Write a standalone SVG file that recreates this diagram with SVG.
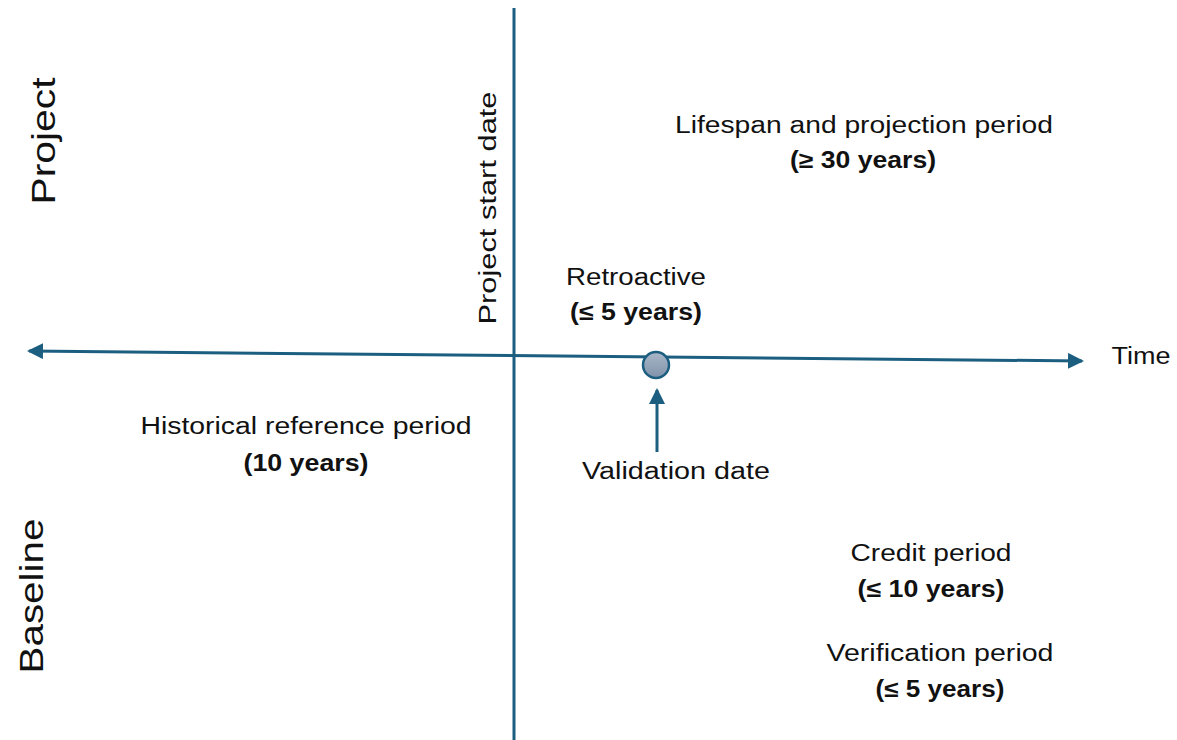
<svg xmlns="http://www.w3.org/2000/svg" width="1177" height="740" viewBox="0 0 1177 740">
<style>
.t{font-family:"Liberation Sans",Arial,sans-serif;font-size:23px;fill:#111;text-anchor:middle}
.b{font-weight:bold}
.ax{stroke:#1b5e7f;stroke-width:3;fill:none}
</style>
<defs>
<marker id="ah" viewBox="0 0 16 16" refX="14" refY="8" markerWidth="16" markerHeight="16" markerUnits="userSpaceOnUse" orient="auto-start-reverse">
<path d="M0,0 L16,8 L0,16 Z" fill="#1b5e7f"/>
</marker>
<linearGradient id="cg" x1="0" y1="0" x2="0" y2="1">
<stop offset="0" stop-color="#a9b7c8"/>
<stop offset="1" stop-color="#8093aa"/>
</linearGradient>
</defs>
<rect width="1177" height="740" fill="#fff"/>
<g id="connectors">
<line class="ax" x1="514" y1="8" x2="514" y2="740"/>
<line class="ax" x1="29" y1="351" x2="1082" y2="361" marker-start="url(#ah)" marker-end="url(#ah)"/>
<line class="ax" x1="657" y1="452" x2="657" y2="390" marker-end="url(#ah)"/>
</g>
<g id="validation-point">
<circle cx="656" cy="365" r="13" fill="url(#cg)" stroke="#1b5e7f" stroke-width="2.5"/>
</g>
<g id="label-project">
<text class="t" transform="translate(55,141) rotate(-90)" font-size="33" style="font-size:33px" textLength="127" lengthAdjust="spacingAndGlyphs">Project</text>
</g>
<g id="label-baseline">
<text class="t" transform="translate(43,596) rotate(-90)" style="font-size:33px" textLength="155" lengthAdjust="spacingAndGlyphs">Baseline</text>
</g>
<g id="label-start">
<text class="t" transform="translate(496,208) rotate(-90)" textLength="233" lengthAdjust="spacingAndGlyphs">Project start date</text>
</g>
<g id="label-time">
<text class="t" x="1141" y="364" textLength="59" lengthAdjust="spacingAndGlyphs">Time</text>
</g>
<g id="label-lifespan">
<text class="t" x="864" y="133" textLength="378" lengthAdjust="spacingAndGlyphs">Lifespan and projection period</text>
<text class="t b" x="863" y="168" textLength="146" lengthAdjust="spacingAndGlyphs">(≥ 30 years)</text>
</g>
<g id="label-retroactive">
<text class="t" x="636" y="285" textLength="140" lengthAdjust="spacingAndGlyphs">Retroactive</text>
<text class="t b" x="636" y="320" textLength="132" lengthAdjust="spacingAndGlyphs">(≤ 5 years)</text>
</g>
<g id="label-historical">
<text class="t" x="306" y="434" textLength="331" lengthAdjust="spacingAndGlyphs">Historical reference period</text>
<text class="t b" x="306" y="471" textLength="125" lengthAdjust="spacingAndGlyphs">(10 years)</text>
</g>
<g id="label-validation">
<text class="t" x="676" y="479" textLength="188" lengthAdjust="spacingAndGlyphs">Validation date</text>
</g>
<g id="label-credit">
<text class="t" x="931" y="561" textLength="161" lengthAdjust="spacingAndGlyphs">Credit period</text>
<text class="t b" x="931" y="597" textLength="147" lengthAdjust="spacingAndGlyphs">(≤ 10 years)</text>
</g>
<g id="label-verification">
<text class="t" x="940" y="661" textLength="227" lengthAdjust="spacingAndGlyphs">Verification period</text>
<text class="t b" x="940" y="697" textLength="129" lengthAdjust="spacingAndGlyphs">(≤ 5 years)</text>
</g>
</svg>
